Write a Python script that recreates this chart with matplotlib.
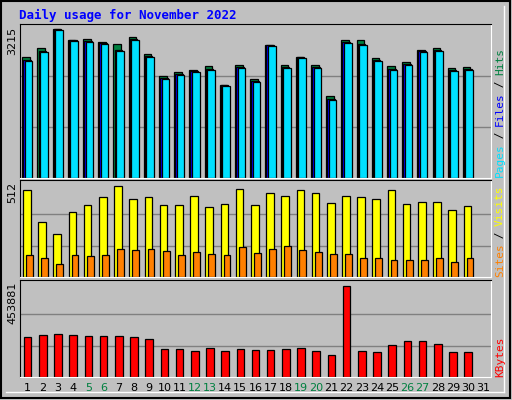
import matplotlib
matplotlib.use('Agg')
import matplotlib.pyplot as plt
import numpy as np

days = list(range(1, 32))
weekend = [5, 6, 12, 13, 19, 20, 26, 27]

hits = [2538, 2728, 3130, 2898, 2919, 2855, 2813, 2961, 2601, 2136, 2221, 2263, 2348, 1946, 2369,
        2073, 2792, 2369, 2538, 2369, 1713, 2898, 2898, 2517, 2348, 2432, 2686, 2728, 2305, 2327]
files = [2475, 2665, 3130, 2898, 2877, 2834, 2686, 2919, 2560, 2094, 2179, 2242, 2284, 1946, 2327,
         2031, 2792, 2327, 2538, 2327, 1650, 2856, 2813, 2475, 2284, 2390, 2665, 2686, 2263, 2284]
pages = [2460, 2650, 3110, 2880, 2860, 2815, 2670, 2900, 2540, 2075, 2160, 2225, 2265, 1930, 2310,
         2015, 2775, 2310, 2520, 2310, 1635, 2840, 2795, 2460, 2265, 2370, 2650, 2670, 2245, 2265]
visits = [475, 301, 232, 354, 391, 433, 496, 422, 433, 391, 391, 438, 380, 396, 480,
          391, 459, 438, 475, 459, 401, 443, 433, 422, 475, 396, 407, 407, 364, 385]
sites = [121, 106, 69, 121, 116, 121, 153, 148, 153, 143, 121, 137, 127, 121, 164,
         132, 153, 169, 148, 137, 127, 127, 106, 106, 95, 90, 90, 106, 79, 106]
kbytes = [191120, 200676, 205454, 200676, 195898, 195898, 195898, 191120, 181564, 133784,
          133784, 124228, 138562, 124228, 133784, 129006, 129006, 133784, 138562, 124228,
          105116, 439576, 124228, 119450, 152896, 172008, 172008, 157674, 119450, 119450]

max_hits = 3215
max_visits = 512
max_kb = 453881

W, H = 512, 400
BG = '#C0C0C0'
fig = plt.figure(figsize=(W / 100, H / 100), dpi=100, facecolor=BG)

# outer frame
frame = fig.add_axes([0, 0, 1, 1])
frame.set_xlim(0, W)
frame.set_ylim(H, 0)
frame.axis('off')
frame.add_patch(plt.Rectangle((1, 1), W - 3, H - 3, fill=False, ec='black', lw=1.5))
frame.plot([W - 8, W - 8], [6, H - 8], color='white', lw=1)
frame.plot([6, W - 8], [H - 8, H - 8], color='white', lw=1)
frame.text(19, 15, 'Daily usage for November 2022', color='#0000FF', fontsize=9,
           fontweight='bold', family='DejaVu Sans Mono', va='center')

left, right = 20, 491


def panel(top, bottom):
    ax = fig.add_axes([left / W, 1 - bottom / H, (right - left) / W, (bottom - top) / H])
    ax.set_facecolor(BG)
    ax.set_xlim(0.5, 31.5)
    for s in ax.spines.values():
        s.set_color('white')
    ax.spines['left'].set_color('black')
    ax.spines['top'].set_color('black')
    ax.set_xticks([])
    ax.set_yticks([])
    return ax


x = np.array(days[:len(hits)])

ax1 = panel(24, 178)
ax1.set_ylim(0, max_hits * 1.005)
for g in (max_hits / 3, 2 * max_hits / 3):
    ax1.axhline(g, color='#808080', lw=1, zorder=0)
ax1.bar(x - 0.1, hits, width=0.5, color='#008040', ec='black', lw=0.9)
ax1.bar(x - 0.03, files, width=0.5, color='#0000FF', ec='black', lw=0.9)
ax1.bar(x + 0.07, pages, width=0.5, color='#00E0FF', ec='black', lw=0.9)

ax2 = panel(180, 277)
ax2.set_ylim(0, max_visits * 1.03)
for g in (max_visits / 3, 2 * max_visits / 3):
    ax2.axhline(g, color='#808080', lw=1, zorder=0)
ax2.bar(x - 0.05, visits, width=0.5, color='#FFFF00', ec='black', lw=0.9)
ax2.bar(x + 0.12, sites, width=0.45, color='#FF8000', ec='black', lw=0.9)

ax3 = panel(280, 377)
ax3.set_ylim(0, max_kb * 1.03)
for g in (max_kb / 3, 2 * max_kb / 3):
    ax3.axhline(g, color='#808080', lw=1, zorder=0)
ax3.bar(x, kbytes, width=0.5, color='#FF0000', ec='black', lw=0.9)

# max labels on left
frame.text(12, 27, str(max_hits), rotation=90, ha='center', va='top', fontsize=8, family='DejaVu Sans')
frame.text(12, 182, str(max_visits), rotation=90, ha='center', va='top', fontsize=8, family='DejaVu Sans')
frame.text(12, 282, str(max_kb), rotation=90, ha='center', va='top', fontsize=8, family='DejaVu Sans')

# right-side legends, bottom to top
def vlegend(y0, parts):
    y = y0
    for txt, col in parts:
        frame.text(500, y, txt, rotation=90, ha='center', va='bottom', color=col,
                   fontsize=8, family='DejaVu Sans Mono')
        y -= len(txt) * 6.4

vlegend(177, [('Pages', '#00E0FF'), (' / ', 'black'), ('Files', '#0000FF'), (' / ', 'black'), ('Hits', '#008040')])
vlegend(277, [('Sites', '#FF8000'), (' / ', 'black'), ('Visits', '#FFFF00')])
vlegend(377, [('KBytes', '#FF0000')])

# day labels
for d in days:
    xp = left + (d - 0.5) * (right - left) / 31
    col = '#008040' if d in weekend else 'black'
    frame.text(xp, 388, str(d), ha='center', va='center', color=col, fontsize=8, family='DejaVu Sans')

fig.savefig('out.png', dpi=100, facecolor=BG)
